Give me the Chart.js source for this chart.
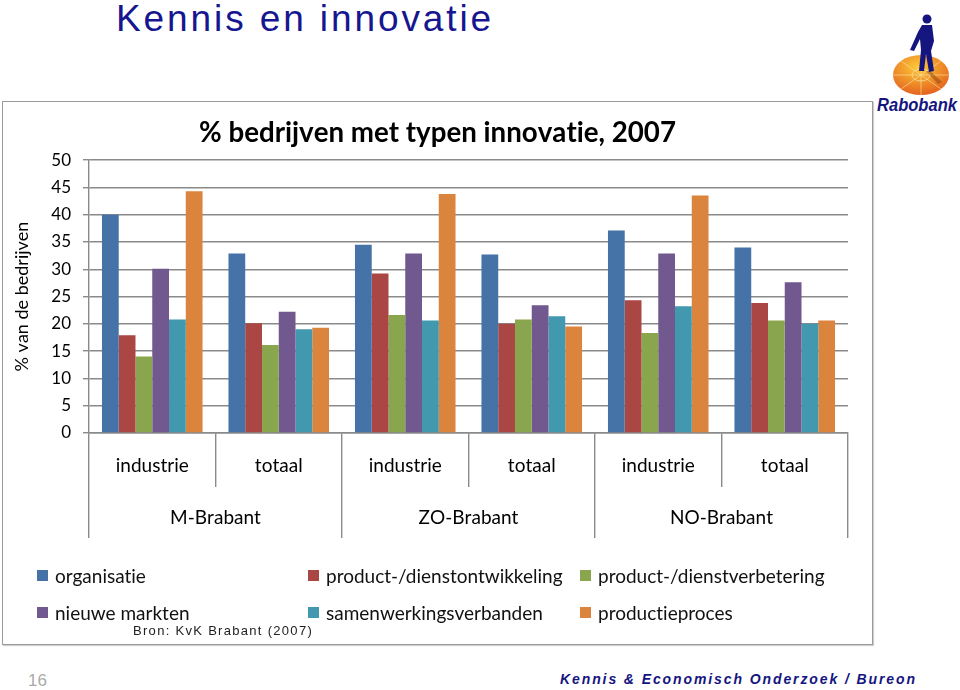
<!DOCTYPE html>
<html>
<head>
<meta charset="utf-8">
<script src="https://cdn.jsdelivr.net/npm/chart.js@4.4.1/dist/chart.umd.min.js"></script>
<style>
body { margin:0; background:#fff; width:960px; height:690px; position:relative; overflow:hidden; font-family: Lato, sans-serif; font-variant-ligatures:none; }
#kop { position:absolute; left:116px; top:-2px; font: 37px "Liberation Sans", Arial, sans-serif; letter-spacing:2.9px; color:#161690; white-space:nowrap; }
#kader { position:absolute; left:2px; top:101px; width:869px; height:542px; border:1px solid #9a9a9a; box-shadow:1px 1px 1px #d0d0d0; }
#grafiek { position:absolute; left:0; top:0; }
.item { position:absolute; height:20px; font-size:19px; color:#111; white-space:nowrap; line-height:20px; }
.item span.blok { position:absolute; left:0; top:4px; width:11px; height:11px; }
.item span.tekst { position:absolute; left:18px; top:0; }
#bron { position:absolute; left:133px; top:623px; font: 13px "Liberation Sans", Arial, sans-serif; letter-spacing:1.3px; color:#222; }
#pagina { position:absolute; left:28px; top:671px; font: 17px "Liberation Sans Narrow", "Liberation Sans", Arial, sans-serif; color:#aaa; }
#afdeling { position:absolute; left:560px; top:671px; font: italic bold 14px "Liberation Sans", Arial, sans-serif; letter-spacing:1.9px; color:#15157F; white-space:nowrap; }
#logo { position:absolute; left:866px; top:0; }
</style>
</head>
<body>
<div id="kop">Kennis en innovatie</div>

<svg id="logo" width="94" height="120">
  <defs>
    <radialGradient id="schijf" cx="45%" cy="30%" r="70%">
      <stop offset="0" stop-color="#FCCB3A"/>
      <stop offset="1" stop-color="#E5621D"/>
    </radialGradient>
  </defs>
  <ellipse cx="55" cy="75" rx="28" ry="20" fill="url(#schijf)"/>
  <g stroke="#FBE3A0" stroke-width="0.8" opacity="0.8">
    <line x1="55" y1="75" x2="27" y2="75"/><line x1="55" y1="75" x2="83" y2="75"/>
    <line x1="55" y1="75" x2="55" y2="55"/><line x1="55" y1="75" x2="55" y2="95"/>
    <line x1="55" y1="75" x2="35" y2="61"/><line x1="55" y1="75" x2="75" y2="89"/>
    <line x1="55" y1="75" x2="75" y2="61"/><line x1="55" y1="75" x2="35" y2="89"/>
  </g>
  <ellipse cx="55" cy="75" rx="9" ry="6" fill="none" stroke="#FBE3A0" stroke-width="0.8"/>
  <path d="M64 71 L76 82 L72 84 L60 71 Z" fill="#7a3a10" opacity="0.45"/>
  <circle cx="61" cy="19" r="4.5" fill="#15157F"/>
  <path d="M56 25 L66 25 L68 41 L65 51 L68 71 L63 72 L60 54 L58 71 L53 71 L55 50 L54 39 L48 51 L44 50 L52 32 Z" fill="#15157F"/>
  <text x="11" y="111" font-family="Liberation Sans, Arial" font-weight="bold" font-style="italic" font-size="18" fill="#15157F" textLength="80" lengthAdjust="spacingAndGlyphs">Rabobank</text>
</svg>

<div id="kader"><canvas id="grafiek" width="869" height="542"></canvas></div>
<div id="legenda"></div>
<div id="bron">Bron: KvK Brabant (2007)</div>
<div id="pagina">16</div>
<div id="afdeling">Kennis &amp; Economisch Onderzoek / Bureon</div>

<script>
// categorieen en regio's
var categorieen = ['industrie', 'totaal', 'industrie', 'totaal', 'industrie', 'totaal'];
var regios = ['M-Brabant', 'ZO-Brabant', 'NO-Brabant'];

var organisatie = [40.0, 32.9, 34.5, 32.7, 37.1, 34.0];
var productOntwikkeling = [17.9, 20.1, 29.2, 20.0, 24.3, 23.8];
var productVerbetering = [14.0, 16.1, 21.6, 20.8, 18.3, 20.6];
var nieuweMarkten = [30.1, 22.2, 32.9, 23.4, 32.9, 27.6];
var samenwerking = [20.8, 19.0, 20.6, 21.4, 23.2, 20.0];
var productieproces = [44.3, 19.3, 43.8, 19.5, 43.5, 20.6];

var yMin = 0, yMax = 50, yStap = 5;

var grijs = '#8a8a8a';
var labelFont = { family: 'Lato', size: 19 };

// geen ligaturen (ti) in canvas tekst
var geenLigaturen = {
    id: 'geenLigaturen',
    beforeDraw: function (chart) {
        chart.ctx.textRendering = 'optimizeSpeed';
        chart.ctx.fontKerning = 'none';
    }
};

var ctx = document.getElementById('grafiek').getContext('2d');
var myChart = new Chart(ctx, {
    type: 'bar',
    plugins: [geenLigaturen],
    data: {
        labels: categorieen,
        datasets: [
            { label: 'organisatie', data: organisatie, backgroundColor: '#4572A7' },
            { label: 'product-/dienstontwikkeling', data: productOntwikkeling, backgroundColor: '#AA4643' },
            { label: 'product-/dienstverbetering', data: productVerbetering, backgroundColor: '#89A54E' },
            { label: 'nieuwe markten', data: nieuweMarkten, backgroundColor: '#71588F' },
            { label: 'samenwerkingsverbanden', data: samenwerking, backgroundColor: '#4198AF' },
            { label: 'productieproces', data: productieproces, backgroundColor: '#DB843D' }
        ]
    },
    options: {
        responsive: false,
        animation: false,
        datasets: { bar: { barPercentage: 1, categoryPercentage: 0.795 } },
        layout: { padding: { left: 0, right: 0, top: 0, bottom: 106 } },
        plugins: {
            legend: { display: false },
            tooltip: { enabled: false },
            title: {
                display: true,
                text: '% bedrijven met typen innovatie, 2007',
                color: '#000',
                font: { family: 'Lato', size: 27.7, weight: 'bold' },
                padding: { top: 14.4, bottom: 10.4 }
            }
        },
        scales: {
            y: {
                min: yMin, max: yMax,
                ticks: { stepSize: yStap, color: '#000', font: { family: 'Lato', size: 17 }, padding: 12 },
                grid: { color: grijs, lineWidth: 1.4, tickLength: 6 },
                border: { color: grijs, width: 1.4 },
                title: { display: true, text: '% van de bedrijven', color: '#000', font: { family: 'Lato', size: 18 }, padding: { top: 8.5 } },
                afterFit: function (s) { s.width = 86; }
            },
            rechts: {
                type: 'linear', position: 'right', display: true,
                ticks: { display: false }, grid: { display: false }, border: { display: false },
                afterFit: function (s) { s.width = 24; }
            },
            x: {
                weight: 0,
                grid: { offset: true, drawOnChartArea: false, tickLength: 54, color: grijs, lineWidth: 1.4 },
                border: { color: grijs, width: 1.4 },
                ticks: { color: '#000', font: labelFont, padding: -33 },
                afterFit: function (s) { s.height = 54; }
            },
            x2: {
                type: 'category', labels: regios, position: 'bottom', weight: 1, offset: true,
                grid: { offset: true, drawOnChartArea: false, tickLength: 51, color: grijs, lineWidth: 1.4 },
                border: { display: false },
                ticks: { color: '#000', font: labelFont, padding: -32 },
                afterFit: function (s) { s.height = 51; }
            }
        }
    }
});

// legenda in drie kolommen, opgebouwd uit de datasets
var kolomX = [37, 308, 580];
var rijY = [566, 603];
var legenda = document.getElementById('legenda');
myChart.data.datasets.forEach(function (ds, i) {
    var el = document.createElement('div');
    el.className = 'item';
    el.style.left = kolomX[i % 3] + 'px';
    el.style.top = rijY[Math.floor(i / 3)] + 'px';
    el.innerHTML = '<span class="blok" style="background:' + ds.backgroundColor + '"></span><span class="tekst">' + ds.label + '</span>';
    legenda.appendChild(el);
});
</script>
</body>
</html>
